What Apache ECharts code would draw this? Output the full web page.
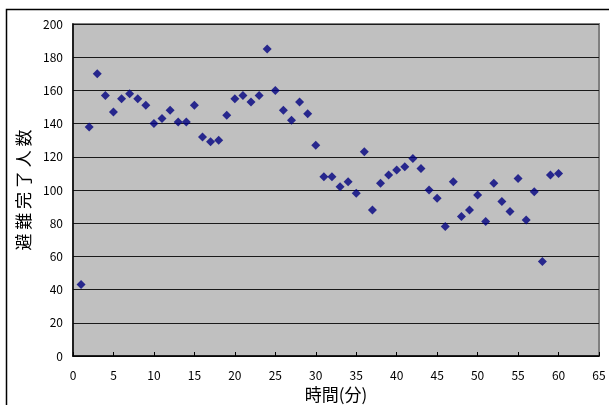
<!DOCTYPE html>
<html>
<head>
<meta charset="utf-8">
<script src="https://cdn.jsdelivr.net/npm/echarts@6/dist/echarts.min.js"></script>
<style>
  html, body { margin: 0; padding: 0; background: #ffffff; }
  #chart { width: 609px; height: 405px; }
</style>
</head>
<body>
<div id="chart"></div>
<script>
// Elapsed time (minutes) and number of people who finished evacuating in that minute
var minutes = [1,2,3,4,5,6,7,8,9,10,11,12,13,14,15,16,17,18,19,20,
               21,22,23,24,25,26,27,28,29,30,31,32,33,34,35,36,37,38,39,40,
               41,42,43,44,45,46,47,48,49,50,51,52,53,54,55,56,57,58,59,60];
var evacuated = [43,138,170,157,147,155,158,155,151,140,143,148,141,141,151,132,129,130,145,155,
                 157,153,157,185,160,148,142,153,146,127,108,108,102,105,98,123,88,104,109,112,
                 114,119,113,100,95,78,105,84,88,97,81,104,93,87,107,82,99,57,109,110];

var xTicks = { min: 0, max: 65, interval: 5 };
var yTicks = { min: 0, max: 200, interval: 20 };

var points = minutes.map(function (m, i) { return [m, evacuated[i]]; });

var font = '"Noto Sans CJK JP", "Noto Sans", sans-serif';
var chart = echarts.init(document.getElementById('chart'), null, { renderer: 'canvas' });

chart.setOption({
  animation: false,
  backgroundColor: '#ffffff',
  graphic: [
    {
      type: 'rect',
      left: 4, top: 7,
      shape: { x: 0, y: 0, width: 700, height: 500 },
      style: { fill: 'none', stroke: '#000000', lineWidth: 1.5 },
      silent: true
    }
  ],
  grid: {
    left: 73, right: 10, top: 24, bottom: 49,
    outerBoundsMode: 'none',
    containLabel: false,
    show: true,
    backgroundColor: '#c0c0c0',
    borderColor: '#808080',
    borderWidth: 2
  },
  xAxis: {
    type: 'value',
    min: xTicks.min, max: xTicks.max, interval: xTicks.interval,
    name: '時間(分)',
    nameLocation: 'middle',
    nameGap: 30,
    nameTextStyle: { fontFamily: font, fontSize: 17, color: '#000000' },
    axisLine: { show: true, lineStyle: { color: '#000000', width: 1.5 } },
    axisTick: { show: true, inside: true, length: 4, lineStyle: { color: '#000000' } },
    axisLabel: { fontFamily: font, fontSize: 12, color: '#000000', margin: 13 },
    splitLine: { show: false }
  },
  yAxis: {
    type: 'value',
    min: yTicks.min, max: yTicks.max, interval: yTicks.interval,
    name: '避 難 完 了 人 数',
    nameLocation: 'middle',
    nameGap: 39,
    nameTextStyle: { fontFamily: font, fontSize: 17, color: '#000000' },
    axisLine: { show: true, lineStyle: { color: '#000000', width: 1.5 } },
    axisTick: { show: false },
    axisLabel: { fontFamily: font, fontSize: 12, color: '#000000', margin: 10 },
    splitLine: { show: true, lineStyle: { color: '#1a1a1a', width: 1 } }
  },
  series: [
    {
      type: 'scatter',
      data: points,
      symbol: 'diamond',
      symbolSize: 9,
      itemStyle: { color: '#000080' }
    }
  ]
});
</script>
</body>
</html>
